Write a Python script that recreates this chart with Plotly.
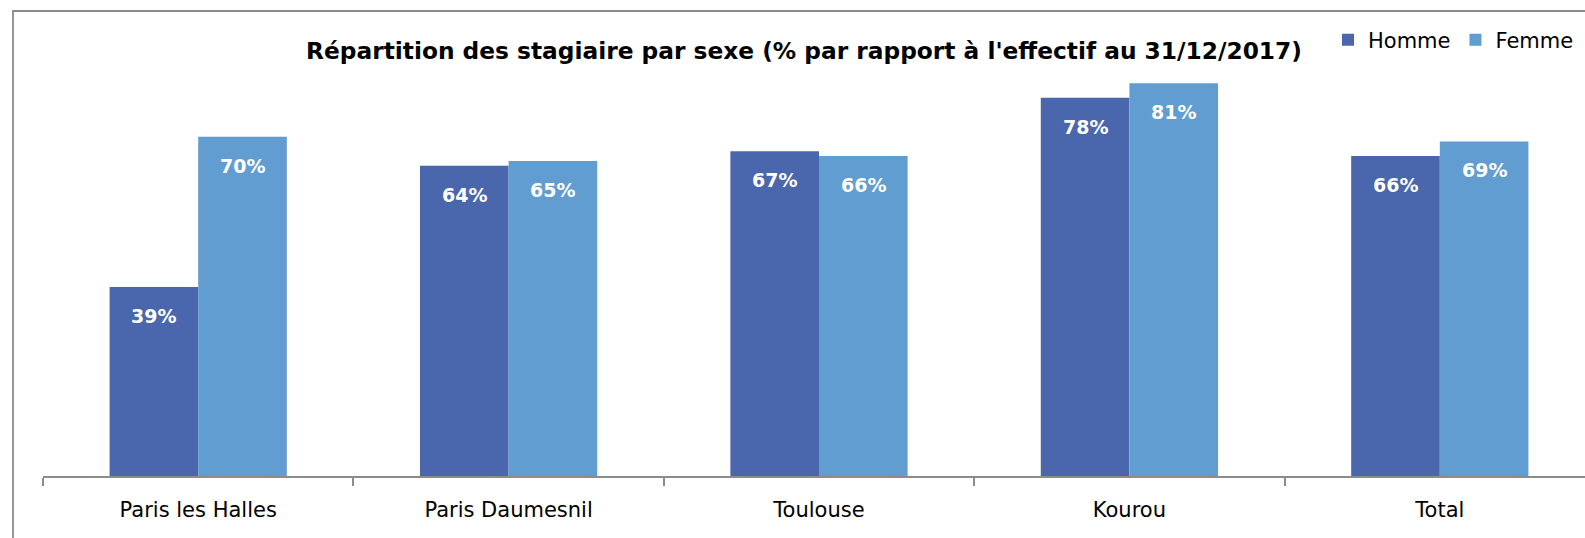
import plotly.graph_objects as go

categories = ["Paris les Halles", "Paris Daumesnil", "Toulouse", "Kourou", "Total"]
homme = [39, 64, 67, 78, 66]
femme = [70, 65, 66, 81, 69]
series_names = ["Homme", "Femme"]
colors = ["#4A66AC", "#629DD1"]
title_text = "Répartition des stagiaire par sexe (% par rapport à l'effectif au 31/12/2017)"

W, H = 1585, 538
ML, MR, MT, MB = 43, 0, 40, 62
pw = W - ML - MR
ph = H - MT - MB
cat_px = 310.4
px_per_unit = 4.848

FONT = "DejaVu Sans"

fig = go.Figure()
for name, vals, col in zip(series_names, [homme, femme], colors):
    fig.add_trace(go.Bar(
        name=name, x=categories, y=vals,
        marker=dict(color=col, line=dict(width=0)),
    ))

# data labels (inside end)
bar_w_px = cat_px * (1 - 0.429) / 2
for i, vals in enumerate([homme, femme]):
    shift = (-0.5 if i == 0 else 0.5) * bar_w_px
    for c, v in zip(categories, vals):
        fig.add_annotation(
            x=c, y=v, xref="x", yref="y", text=f"{v}%", showarrow=False,
            xshift=shift, yshift=-29, yanchor="middle", xanchor="center",
            font=dict(family=FONT, size=19, color="white", weight="bold"),
        )

# frame lines (cropped chart border)
def xp(px):
    return (px - ML) / pw

def yp(py):
    return (H - MB - py) / ph

fig.add_shape(type="path", xref="paper", yref="paper",
              path=f"M {xp(13)},{yp(545)} L {xp(13)},{yp(11)} L {xp(1600)},{yp(11)}",
              line=dict(color="#8C8C8C", width=1.8))

fig.update_layout(
    width=W, height=H, autosize=False,
    margin=dict(l=ML, r=MR, t=MT, b=MB, pad=0, autoexpand=False),
    paper_bgcolor="white", plot_bgcolor="white",
    barmode="group", bargap=0.429, bargroupgap=0,
    title=dict(text=title_text, x=804 / W, xref="container", xanchor="center",
               y=1 - 51 / H, yref="container", yanchor="middle",
               font=dict(family=FONT, size=23.3, color="black", weight="bold")),
    legend=dict(orientation="h", x=1328 / W, xref="container", xanchor="left",
                y=1 - 40 / H, yref="container", yanchor="middle",
                font=dict(family=FONT, size=21, color="black"),
                bgcolor="rgba(0,0,0,0)", itemclick=False, traceorder="normal"),
    showlegend=True,
    xaxis=dict(range=[-0.5, -0.5 + pw / cat_px], showline=True, linecolor="#8C8C8C",
               linewidth=1.5, ticks="outside", tickson="boundaries", ticklen=8,
               tickcolor="#8C8C8C", tickwidth=1.5, showgrid=False, zeroline=False,
               tickfont=dict(family=FONT, size=21, color="black"),
               ticklabelstandoff=14),
    yaxis=dict(range=[0, ph / px_per_unit], visible=False, showgrid=False,
               zeroline=False),
    font=dict(family=FONT),
)

fig.write_html("out.html", config={"displayModeBar": False},
               post_script="document.body.style.margin='0';")
